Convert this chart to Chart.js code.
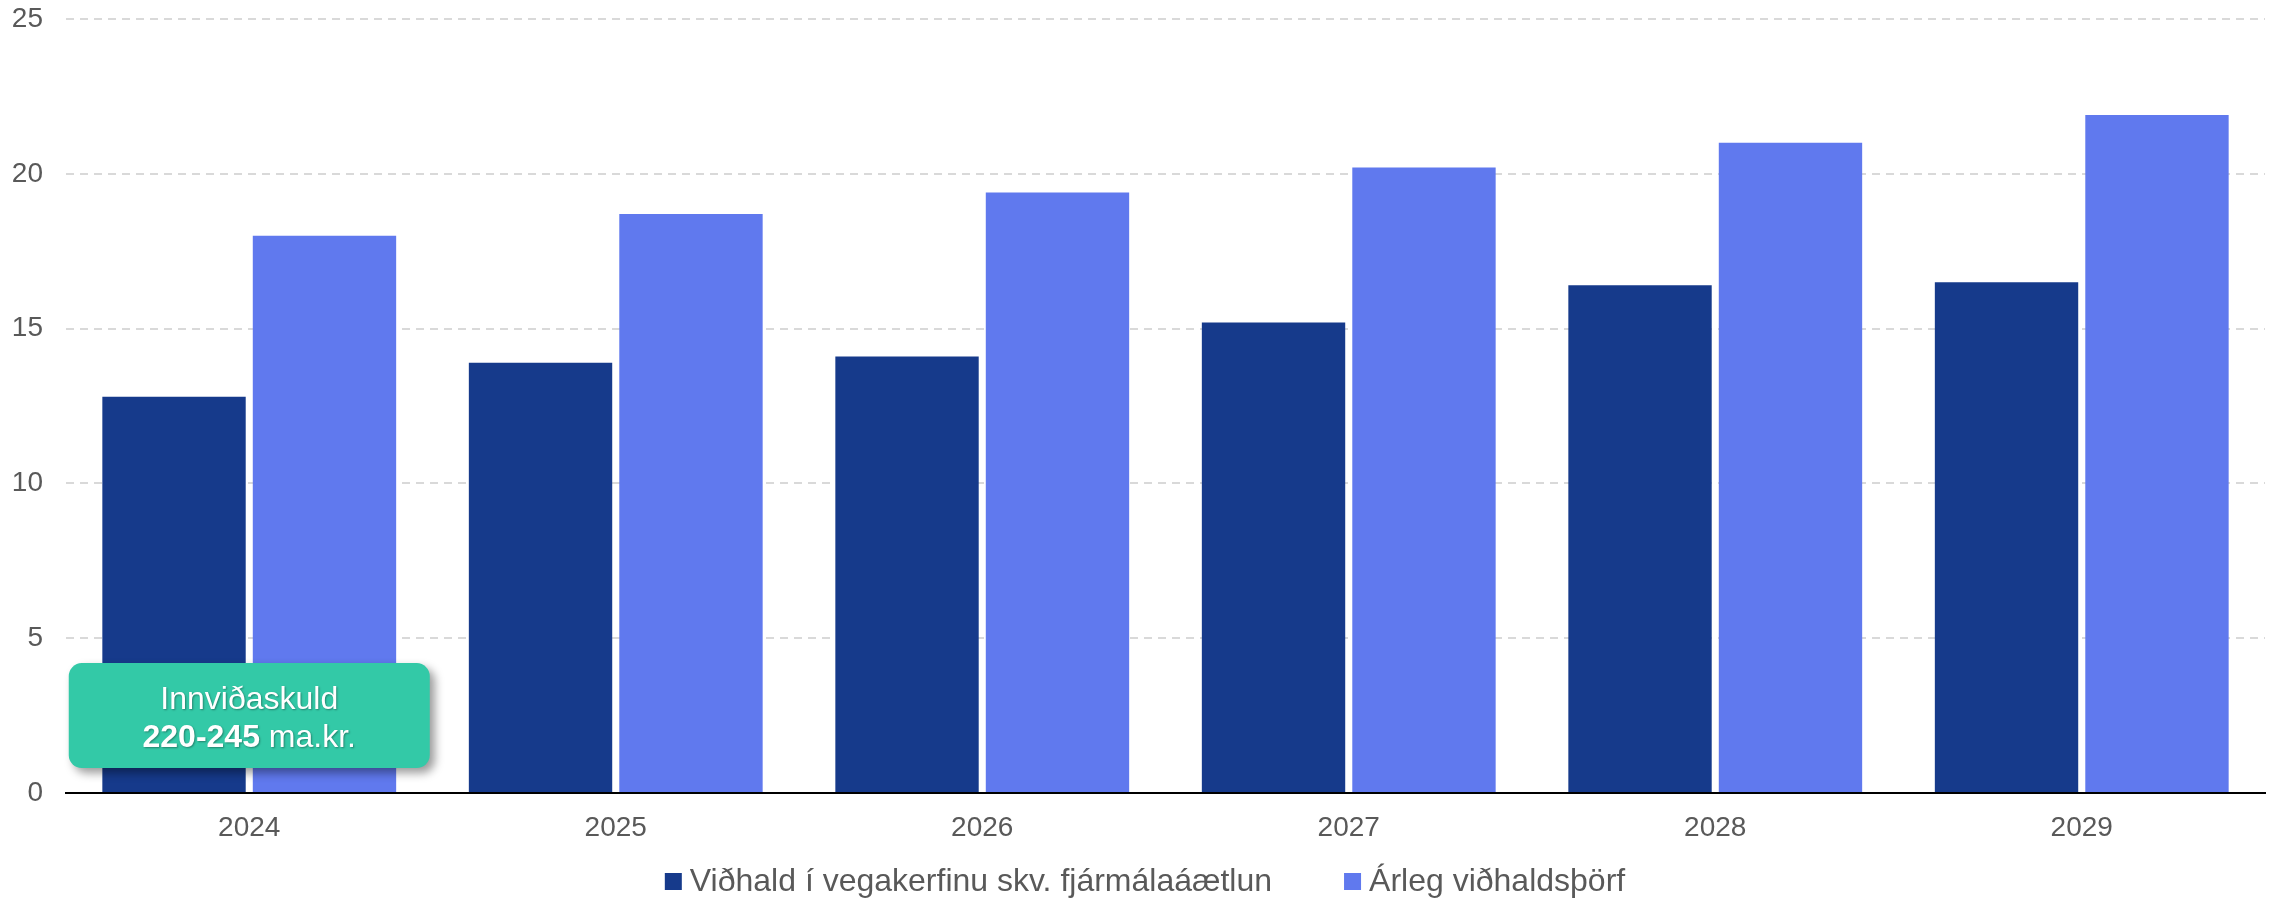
<!DOCTYPE html>
<html lang="is">
<head>
<meta charset="utf-8">
<title>Viðhald vegakerfisins</title>
<script src="https://cdn.jsdelivr.net/npm/chart.js@4.4.1/dist/chart.umd.min.js"></script>
<style>
    html, body { margin: 0; padding: 0; background: #fff; }
    canvas { display: block; }
</style>
</head>
<body>
<canvas id="roadChart" width="2272" height="899"></canvas>
<script>
// Years on the x axis
const years = ['2024', '2025', '2026', '2027', '2028', '2029'];

// Maintenance according to the fiscal plan (ma.kr.)
const planned = [12.8, 13.9, 14.1, 15.2, 16.4, 16.5];

// Annual maintenance need (ma.kr.)
const annualNeed = [18.0, 18.7, 19.4, 20.2, 21.0, 21.9];

// Y axis range and step
const yMax = 25;
const yStep = 5;

// Infrastructure debt call-out, placed on the first year
const debtTitle = 'Innviðaskuld';
const debtRange = '220-245';
const debtUnit = ' ma.kr.';
const debtAt = { year: '2024', value: 2.5 };

const fontFamily = '"Liberation Sans", Arial, sans-serif';
const textColor = '#595959';

// Draws the teal call-out box and a centred legend under the axis
const extras = {
    id: 'extras',
    afterDatasetsDraw(chart) {
        const ctx = chart.ctx;
        const x = chart.scales.x.getPixelForValue(years.indexOf(debtAt.year));
        const y = chart.scales.y.getPixelForValue(debtAt.value);
        const w = 361, h = 105;

        ctx.save();
        ctx.shadowColor = 'rgba(0, 0, 0, 0.4)';
        ctx.shadowBlur = 10;
        ctx.shadowOffsetX = 5;
        ctx.shadowOffsetY = 5;
        ctx.fillStyle = '#33C9A7';
        ctx.beginPath();
        ctx.roundRect(x - w / 2, y - h / 2, w, h, 13);
        ctx.fill();
        ctx.restore();

        ctx.save();
        ctx.shadowColor = 'rgba(0, 0, 0, 0.35)';
        ctx.shadowBlur = 2;
        ctx.shadowOffsetX = 1;
        ctx.shadowOffsetY = 1;
        ctx.fillStyle = '#fff';
        ctx.textBaseline = 'alphabetic';
        ctx.textAlign = 'center';
        ctx.font = '32px ' + fontFamily;
        ctx.fillText(debtTitle, x, y - 6.5);

        ctx.textAlign = 'left';
        ctx.font = 'bold 32px ' + fontFamily;
        const wBold = ctx.measureText(debtRange).width;
        ctx.font = '32px ' + fontFamily;
        const wUnit = ctx.measureText(debtUnit).width;
        const startX = x - (wBold + wUnit) / 2;
        ctx.font = 'bold 32px ' + fontFamily;
        ctx.fillText(debtRange, startX, y + 31.5);
        ctx.font = '32px ' + fontFamily;
        ctx.fillText(debtUnit, startX + wBold, y + 31.5);
        ctx.restore();
    },
    afterDraw(chart) {
        const ctx = chart.ctx;
        const box = 17, gap = 8, itemGap = 72;
        const baseline = 891;
        ctx.save();
        ctx.font = '32px ' + fontFamily;
        const items = chart.data.datasets.map(ds => ({
            text: ds.label,
            color: ds.backgroundColor,
            width: box + gap + ctx.measureText(ds.label).width
        }));
        const total = items.reduce((s, it) => s + it.width, 0) + itemGap * (items.length - 1);
        let cx = chart.width / 2 + 9 - total / 2;
        items.forEach(it => {
            ctx.fillStyle = it.color;
            ctx.fillRect(cx, baseline - 18, box, box);
            ctx.fillStyle = textColor;
            ctx.textBaseline = 'alphabetic';
            ctx.fillText(it.text, cx + box + gap, baseline);
            cx += it.width + itemGap;
        });
        ctx.restore();
    }
};

const ctx = document.getElementById('roadChart').getContext('2d');
const roadChart = new Chart(ctx, {
    type: 'bar',
    data: {
        labels: years,
        datasets: [{
            label: 'Viðhald í vegakerfinu skv. fjármálaáætlun',
            data: planned,
            backgroundColor: '#163A8B'
        }, {
            label: 'Árleg viðhaldsþörf',
            data: annualNeed,
            backgroundColor: '#6079EE'
        }]
    },
    options: {
        responsive: false,
        animation: false,
        layout: {
            padding: { top: 19, right: 7, bottom: 56, left: 12 }
        },
        datasets: {
            bar: {
                categoryPercentage: 0.821,
                barPercentage: 0.953
            }
        },
        scales: {
            x: {
                grid: { display: false, drawTicks: false },
                border: { display: true, color: '#000', width: 2 },
                ticks: {
                    color: textColor,
                    padding: 18,
                    font: { family: fontFamily, size: 28 }
                },
                afterFit(scale) {
                    // label padding only once, below the axis line
                    scale.height = 50;
                }
            },
            y: {
                min: 0,
                max: yMax,
                grid: { color: '#d9d9d9', lineWidth: 2, drawTicks: false },
                border: { display: false, dash: [8, 6] },
                ticks: {
                    stepSize: yStep,
                    color: textColor,
                    padding: 23,
                    font: { family: fontFamily, size: 28 }
                },
                afterFit(scale) {
                    scale.width = 54;
                    scale.paddingTop = 0;
                    scale.paddingBottom = 0;
                }
            }
        },
        plugins: {
            legend: { display: false },
            tooltip: { enabled: false }
        }
    },
    plugins: [extras]
});
</script>
</body>
</html>
